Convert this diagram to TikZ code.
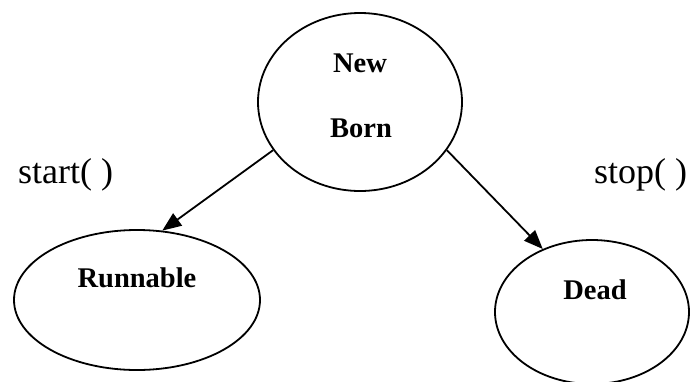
\documentclass[tikz,border=0pt]{standalone}
\usepackage{fontspec}
\setmainfont{Liberation Serif}
\usetikzlibrary{shapes.geometric,arrows.meta}
\begin{document}
\begin{tikzpicture}[x=1pt,y=-1pt,
  state/.style={draw=black,line width=1.8pt,ellipse,inner sep=0pt},
  statename/.style={font=\fontsize{28.5}{30}\selectfont\bfseries,anchor=base,inner sep=0pt},
  method/.style={font=\fontsize{36}{40}\selectfont,anchor=base,inner sep=0pt},
  trans/.style={draw=black,line width=1.8pt,-{Triangle[length=19pt,width=15pt]}}]
  \useasboundingbox (0,0) rectangle (691,381);

  % thread states
  \node[state,minimum width=204pt,minimum height=178pt] (newborn) at (360,102) {};
  \node[state,minimum width=246pt,minimum height=140pt] (runnable) at (137,300) {};
  \node[state,minimum width=194pt,minimum height=144pt] (dead) at (592,312) {};

  % state names
  \node[statename] (tnew) at (360,72) {New};
  \node[statename] (tborn) at (361,137) {Born};
  \node[statename] (trun) at (137,287) {Runnable};
  \node[statename] (tdead) at (595,299) {Dead};

  % method labels
  \node[method] (mstart) at (65.5,183) {start( )};
  \node[method] (mstop) at (640.5,183) {stop( )};

  % transitions
  \draw[trans] (newborn.209) -- (runnable.70);
  \draw[trans] (newborn.331) -- (dead.128);
\end{tikzpicture}
\end{document}
